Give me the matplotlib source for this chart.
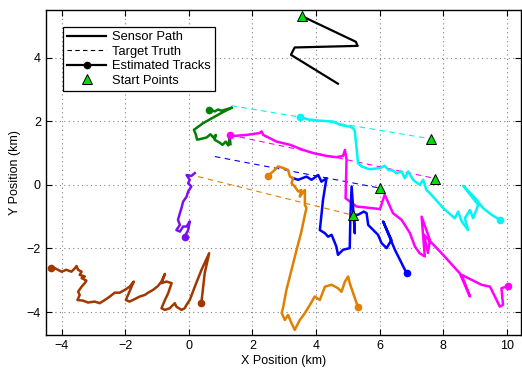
import matplotlib
matplotlib.use("Agg")
import matplotlib.pyplot as plt
from matplotlib.lines import Line2D

plt.rcParams['font.family'] = ['Liberation Sans', 'DejaVu Sans']
plt.rcParams['font.size'] = 9

# sensor path (km)
sensor_x = [3.55, 3.65, 5.25, 5.31, 3.33, 3.21, 4.69]
sensor_y = [5.31, 5.26, 4.50, 4.37, 4.32, 4.09, 3.18]

# start points (sensor + targets)
start_x = [3.55, 7.60, 7.75, 6.00, 5.15]
start_y = [5.31, 1.45, 0.20, -0.10, -0.95]

# target truth segments: (x0, x1), (y0, y1)
truth_cyan = ([1.34, 7.60], [2.49, 1.45])
truth_magenta = ([1.29, 7.75], [1.57, 0.20])
truth_blue = ([0.82, 6.00], [0.89, -0.10])
truth_orange = ([0.29, 5.15], [0.26, -0.95])

# estimated tracks
green_x = [1.31, 1.29, 1.24, 1.16, 1.06, 0.95, 0.81, 0.85, 0.77, 0.68, 0.56, 0.40,
           0.26, 0.22, 0.16, 0.45, 0.77, 1.08, 1.36, 1.03, 0.92, 0.82, 0.64]
green_y = [1.28, 1.49, 1.24, 1.36, 1.26, 1.34, 1.42, 1.57, 1.49, 1.59, 1.49, 1.45,
           1.42, 1.59, 1.73, 1.94, 2.12, 2.29, 2.43, 2.33, 2.37, 2.31, 2.36]

cyan_x = [3.49, 3.81, 4.54, 4.75, 5.06, 5.17, 5.22, 5.27, 5.32, 5.43, 5.69, 6.01,
          6.16, 6.27, 6.42, 6.53, 6.69, 6.79, 6.90, 7.05, 7.26, 7.37, 7.47, 7.58,
          8.00, 8.36, 8.47, 8.58, 8.78, 8.68, 8.84, 8.94, 9.10, 8.63, 9.05, 9.25,
          9.52, 9.78]
cyan_y = [2.13, 2.04, 1.99, 1.89, 1.83, 1.78, 1.68, 1.20, 0.68, 0.58, 0.49, 0.53,
          0.60, 0.47, 0.45, 0.37, 0.42, 0.21, 0.42, 0.16, 0.00, 0.16, -0.16, -0.26,
          -0.73, -1.05, -0.84, -1.15, -1.42, -1.05, -0.79, -1.05, -0.63, -0.03, -0.47,
          -0.73, -0.94, -1.10]

magenta_x = [1.31, 1.45, 1.81, 2.23, 2.29, 2.34, 2.76, 3.18, 3.59, 3.91, 4.33, 4.64,
             4.85, 4.91, 4.96, 4.93, 5.27, 6.01, 6.16, 6.42, 6.69, 6.95, 7.11, 7.26,
             7.42, 7.32, 7.58, 7.52, 7.39, 7.95, 8.52, 8.84, 8.58, 9.20, 9.47, 9.78,
             9.88, 9.83, 10.04]
magenta_y = [1.57, 1.54, 1.57, 1.63, 1.68, 1.57, 1.36, 1.26, 1.10, 1.00, 0.91, 0.87,
             0.91, 1.10, 0.79, -0.42, -0.68, -0.76, -0.31, -0.89, -1.10, -1.51, -1.94,
             -2.15, -2.25, -1.00, -1.73, -2.14, -1.57, -2.15, -2.78, -3.51, -2.83, -3.14,
             -3.20, -3.83, -3.77, -3.25, -3.18]

blue_x = [3.28, 3.44, 3.70, 3.86, 4.07, 4.17, 4.33, 4.22, 4.12, 4.28, 4.38, 4.49,
          4.64, 4.69, 4.85, 5.06, 5.08, 5.12, 5.22, 5.19, 5.32, 5.50, 5.59, 5.64,
          5.80, 5.95, 6.06, 6.22, 6.37, 6.11, 6.48, 6.85]
blue_y = [0.21, 0.16, 0.26, 0.16, 0.31, 0.10, 0.21, -0.47, -1.42, -1.52, -1.63, -1.57,
          -1.94, -2.20, -2.04, -1.99, -1.00, -0.05, -1.52, -0.94, -0.94, -0.84, -0.89,
          -1.26, -1.42, -1.57, -1.83, -1.99, -1.73, -1.15, -2.04, -2.78]

orange_x = [2.49, 2.65, 2.81, 2.97, 3.12, 3.18, 3.28, 3.23, 3.33, 3.44, 3.54, 3.49,
            3.65, 3.65, 3.70, 3.65, 3.54, 3.39, 3.23, 3.07, 2.97, 2.92, 3.02, 3.12,
            3.23, 3.33, 3.49, 3.65, 3.81, 3.96, 4.12, 4.28, 4.49, 4.69, 4.80, 4.91,
            5.01, 5.06, 5.32]
orange_y = [0.29, 0.42, 0.58, 0.53, 0.47, 0.26, 0.21, 0.05, -0.05, -0.21, -0.16, -0.37,
            -0.16, -0.63, -0.73, -0.94, -1.47, -2.04, -2.67, -3.30, -3.83, -4.03, -4.25,
            -4.09, -4.35, -4.56, -4.25, -4.03, -3.77, -3.51, -3.62, -3.20, -3.14, -3.25,
            -3.36, -3.04, -2.88, -3.09, -3.85]

purple_x = [0.19, 0.08, -0.07, 0.03, -0.02, 0.08, -0.02, -0.07, -0.18, -0.23, -0.28,
            -0.34, -0.28, -0.39, -0.28, -0.18, -0.07, 0.03, -0.02, -0.13]
purple_y = [0.37, 0.28, 0.31, 0.16, 0.05, -0.05, -0.21, -0.37, -0.53, -0.73, -0.89,
            -1.10, -1.26, -1.42, -1.47, -1.31, -1.31, -1.15, -1.42, -1.63]

brown_x = [-4.32, -4.21, -4.00, -3.85, -3.69, -3.58, -3.53, -3.48, -3.37, -3.43, -3.27,
           -3.37, -3.22, -3.27, -3.37, -3.48, -3.43, -3.50, -3.32, -3.17, -2.96, -2.80,
           -2.64, -2.48, -2.33, -2.17, -2.01, -1.86, -1.73, -1.91, -1.98, -1.86, -1.70,
           -1.54, -1.38, -1.28, -1.12, -0.97, -0.86, -0.81, -0.75, -0.86, -0.70, -0.54,
           -0.65, -0.75, -0.86, -0.75, -0.60, -0.44, -0.39, -0.23, -0.13, -0.07, 0.03,
           0.19, 0.40, 0.64, 0.50, 0.40, 0.38]
brown_y = [-2.62, -2.62, -2.73, -2.67, -2.73, -2.62, -2.55, -2.67, -2.73, -2.83, -2.88,
           -2.93, -3.01, -3.09, -3.20, -3.36, -3.46, -3.62, -3.64, -3.70, -3.67, -3.72,
           -3.62, -3.51, -3.39, -3.39, -3.30, -3.20, -3.04, -3.46, -3.62, -3.67, -3.59,
           -3.51, -3.46, -3.39, -3.30, -3.18, -3.04, -2.93, -2.80, -3.09, -3.04, -3.09,
           -3.41, -3.62, -3.88, -3.93, -3.88, -3.72, -3.83, -3.93, -3.88, -3.77, -3.62,
           -3.20, -2.67, -2.15, -2.78, -3.67, -3.72]

C_CYAN = '#00f5f5'
C_MAG = '#ff00ff'
C_BLUE = '#0000ff'
C_ORANGE = '#e08000'
C_GREEN = '#007f00'
C_PURPLE = '#7a10f0'
C_BROWN = '#a03800'

fig = plt.figure(figsize=(5.22, 3.68), dpi=100)
ax = fig.add_axes([0.0875, 0.0897, 0.9115, 0.8833])

for (tx, ty), c in [(truth_cyan, C_CYAN), (truth_magenta, C_MAG),
                    (truth_blue, C_BLUE), (truth_orange, C_ORANGE)]:
    ax.plot(tx, ty, '--', color=c, lw=0.8, dashes=(5, 4))

# (x, y, colour, dot at first point too)
tracks = [(green_x, green_y, C_GREEN, False), (cyan_x, cyan_y, C_CYAN, True),
          (magenta_x, magenta_y, C_MAG, True), (blue_x, blue_y, C_BLUE, False),
          (orange_x, orange_y, C_ORANGE, True), (purple_x, purple_y, C_PURPLE, False),
          (brown_x, brown_y, C_BROWN, True)]
for tx, ty, c, both in tracks:
    ax.plot(tx, ty, '-', color=c, lw=1.8, solid_joinstyle='round')
    marks = [0, len(tx) - 1] if both else [len(tx) - 1]
    ax.plot(tx, ty, 'o', color=c, ms=4.5, mec=c, markevery=marks, ls='none')

ax.plot(sensor_x, sensor_y, '-', color='k', lw=1.6, solid_joinstyle='round')
ax.plot(start_x, start_y, '^', color='#00dd00', mec='k', mew=0.7, ms=6.5,
        ls='none', zorder=5)

ax.set_xlim(-4.5, 10.46)
ax.set_ylim(-4.72, 5.5)
ax.set_xticks(range(-4, 11, 2))
ax.set_yticks(range(-4, 5, 2))
ax.grid(True, ls=(0, (1, 3)), color='#808080', lw=0.8)
ax.tick_params(direction='in', top=True, right=True, length=4, width=0.8)
for s in ax.spines.values():
    s.set_linewidth(1.0)
ax.set_xlabel('X Position (km)', labelpad=2)
ax.set_ylabel('Y Position (km)', labelpad=4)

handles = [Line2D([], [], color='k', lw=1.6),
           Line2D([], [], color='k', lw=0.8, ls='--', dashes=(4, 3)),
           Line2D([], [], color='k', lw=1.6, marker='o', ms=4.5),
           Line2D([], [], color='#00dd00', marker='^', mec='k', mew=0.7, ms=6.5, ls='none')]
labels = ['Sensor Path', 'Target Truth', 'Estimated Tracks', 'Start Points']
leg = ax.legend(handles, labels, loc='upper left', bbox_to_anchor=(0.036, 0.948),
                fancybox=False, framealpha=1, edgecolor='k', borderaxespad=0,
                handlelength=3.0, handletextpad=0.45, labelspacing=0.18,
                borderpad=0.35, fontsize=9.3)
leg.get_frame().set_linewidth(0.9)

fig.savefig('out.png', dpi=100)
